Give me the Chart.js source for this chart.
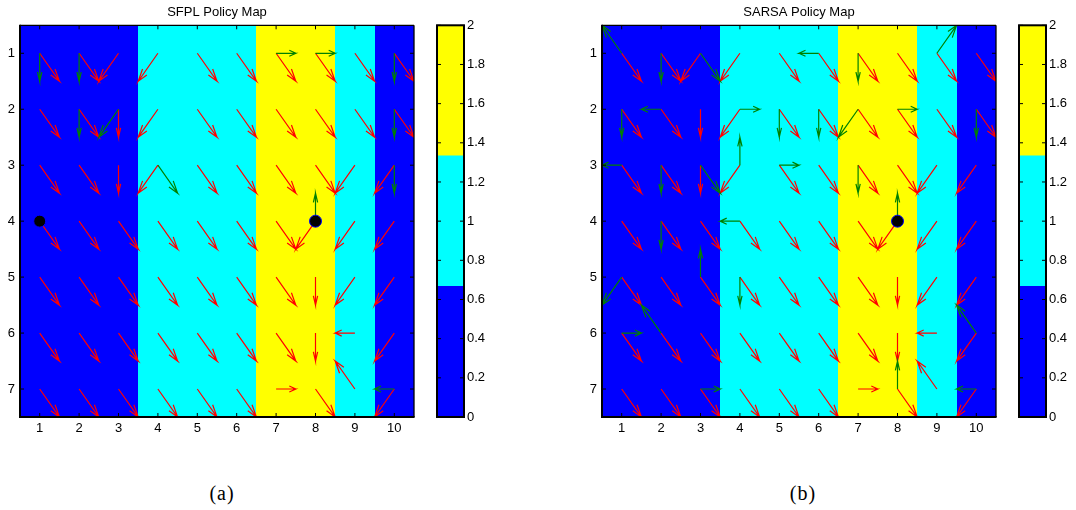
<!DOCTYPE html>
<html>
<head>
<meta charset="utf-8">
<title>Policy maps</title>
<script src="https://cdn.jsdelivr.net/npm/chart.js@4/dist/chart.umd.min.js"></script>
<style>
  body { margin: 0; background: #fff; width: 1076px; height: 510px; position: relative; overflow: hidden; }
  canvas { position: absolute; top: 0; }
  .cap { position: absolute; top: 481px; line-height: 24px; font-family: "Liberation Serif", serif; font-size: 20px; transform: translateX(-50%); letter-spacing: 1px; }
</style>
</head>
<body>
<canvas id="sfplMap" width="424" height="440" style="left:0px"></canvas>
<canvas id="sfplBar" width="76" height="440" style="left:424px"></canvas>
<canvas id="sarsaMap" width="424" height="440" style="left:582px"></canvas>
<canvas id="sarsaBar" width="70" height="440" style="left:1006px"></canvas>
<div class="cap" style="left:222px">(a)</div>
<div class="cap" style="left:803px">(b)</div>

<script>
// grid world: 10 columns x 7 rows
var xTicks = [1, 2, 3, 4, 5, 6, 7, 8, 9, 10];
var yTicks = [1, 2, 3, 4, 5, 6, 7];

// wind level of each column (0..2), coloured with the colour bar
var columnLevel = [0, 0, 0, 1, 1, 1, 2, 2, 1, 0];
var levelColors = ['#0000ff', '#00ffff', '#ffff00'];
var levelBands = [[0, 2 / 3], [2 / 3, 4 / 3], [4 / 3, 2]];
var colorbarTicks = [0, 0.2, 0.4, 0.6, 0.8, 1, 1.2, 1.4, 1.6, 1.8, 2];

// action per cell, row by row ('-' = nothing drawn)
var optimalPolicy = [
  'DR DR DL DL DR DR DR DR DR DR',
  'DR DR D DL DR DR DR DR DR DR',
  'DR DR D DL DR DR DR DR DL DL',
  'DR DR DR DR DR DR DR DL DL DL',
  'DR DR DR DR DR DR DR D DL DL',
  'DR DR DR DR DR DR DR D L DL',
  'DR DR DR DR DR DR R DR UL DL'
];

var sfplPolicy = [
  'D D - - - - R R - D',
  '- D DL - - - - - - D',
  '- - - DR - - - - - D',
  '- - - - - - - U - -',
  '- - - - - - - - - -',
  '- - - - - - - - - -',
  '- - - - - - - - - L'
];

var sarsaPolicy = [
  'UL D DR - - L D - UR -',
  'D L - R D D DL R - D',
  'L D DR U R - D - - -',
  '- D - L - - - U - -',
  'DL - U D - - - - - -',
  'R UL - - - - - - - UL',
  '- - R - - - - U - L'
];

// start / goal markers
var sfplAgents = [{ x: 1, y: 4 }, { x: 8, y: 4 }];
var sarsaAgents = [{ x: 8, y: 4 }];

var dirVec = { R: [1, 0], L: [-1, 0], U: [0, -1], D: [0, 1], UR: [1, -1], UL: [-1, -1], DR: [1, 1], DL: [-1, 1] };
var STEP = 0.5;
var HEAD = 0.33;

// quiver arrows as one broken polyline: tail, tip, barb, tip, barb, gap
function quiver(rows) {
  var pts = [];
  rows.forEach(function (row, r) {
    row.split(' ').forEach(function (code, c) {
      var d = dirVec[code];
      if (!d) return;
      var x = xTicks[c], y = yTicks[r];
      var u = d[0] * STEP, v = d[1] * STEP;
      var tx = x + u, ty = y + v;
      pts.push({ x: x, y: y }, { x: tx, y: ty },
        { x: tx - HEAD * (u + HEAD * v), y: ty - HEAD * (v - HEAD * u) },
        { x: tx, y: ty },
        { x: tx - HEAD * (u - HEAD * v), y: ty - HEAD * (v + HEAD * u) },
        { x: null, y: null });
    });
  });
  return pts;
}

Chart.defaults.font.family = '"Liberation Sans", Arial, sans-serif';
Chart.defaults.font.size = 13;
Chart.defaults.color = '#000';

function line(ctx, x1, y1, x2, y2) {
  ctx.beginPath();
  ctx.moveTo(x1, y1);
  ctx.lineTo(x2, y2);
  ctx.stroke();
}

var columnsPlugin = {
  id: 'columns',
  beforeDatasetsDraw: function (chart) {
    var ctx = chart.ctx, a = chart.chartArea, xs = chart.scales.x;
    ctx.save();
    columnLevel.forEach(function (lv, i) {
      var x0 = Math.round(xs.getPixelForValue(xTicks[i] - 0.5));
      var x1 = Math.round(xs.getPixelForValue(xTicks[i] + 0.5));
      ctx.fillStyle = levelColors[lv];
      ctx.fillRect(x0, a.top, x1 - x0, a.bottom - a.top);
    });
    ctx.restore();
  }
};

var framePlugin = {
  id: 'frame',
  afterDraw: function (chart) {
    var ctx = chart.ctx, a = chart.chartArea, s = chart.scales;
    ctx.save();
    ctx.strokeStyle = '#000';
    ctx.lineWidth = 1;
    s.x.ticks.forEach(function (t) {
      var px = s.x.getPixelForValue(t.value);
      line(ctx, px, a.top, px, a.top + 4);
      line(ctx, px, a.bottom, px, a.bottom - 4);
    });
    s.y.ticks.forEach(function (t) {
      var py = s.y.getPixelForValue(t.value);
      line(ctx, a.left, py, a.left + 4, py);
      line(ctx, a.right, py, a.right - 4, py);
    });
    ctx.lineWidth = 1.3;
    line(ctx, a.left, a.top, a.right, a.top);
    line(ctx, a.right, a.top, a.right, a.bottom);
    ctx.lineWidth = 2;
    line(ctx, a.left, a.top - 0.6, a.left, a.bottom + 1);
    line(ctx, a.left - 1, a.bottom, a.right + 0.6, a.bottom);
    ctx.restore();
  }
};

var noGrid = { display: false, drawTicks: false };

function policyMap(id, title, policy, agents) {
  new Chart(document.getElementById(id), {
    type: 'scatter',
    data: {
      datasets: [
        { data: agents, pointRadius: 6, backgroundColor: '#000', borderColor: '#0000ff', borderWidth: 1, order: 0 },
        { data: quiver(policy), showLine: true, spanGaps: false, pointRadius: 0, borderColor: '#008000', borderWidth: 1.2, order: 1 },
        { data: quiver(optimalPolicy), showLine: true, spanGaps: false, pointRadius: 0, borderColor: '#ff0000', borderWidth: 1.2, order: 2 }
      ]
    },
    options: {
      responsive: false,
      animation: false,
      events: [],
      layout: { padding: { left: 0, right: 10, top: 0, bottom: 0 } },
      plugins: {
        legend: { display: false },
        tooltip: { enabled: false },
        title: { display: true, text: title, fullSize: false, font: { size: 13, weight: 'normal' }, padding: { top: 4.7, bottom: 5 } }
      },
      scales: {
        x: {
          type: 'linear', min: 0.5, max: 10.5,
          grid: noGrid, border: { display: false },
          ticks: { padding: 4 },
          afterBuildTicks: function (s) { s.ticks = xTicks.map(function (v) { return { value: v }; }); },
          afterFit: function (s) { s.height = 23; }
        },
        y: {
          type: 'linear', min: 0.5, max: 7.5, reverse: true,
          grid: noGrid, border: { display: false },
          ticks: { padding: 5 },
          afterBuildTicks: function (s) { s.ticks = yTicks.map(function (v) { return { value: v }; }); },
          afterFit: function (s) { s.width = 20; }
        }
      }
    },
    plugins: [columnsPlugin, framePlugin]
  });
}

function colorbar(id, axisWidth) {
  new Chart(document.getElementById(id), {
    type: 'bar',
    data: {
      labels: [''],
      datasets: levelBands.map(function (band, i) {
        return { data: [band], backgroundColor: levelColors[i], barPercentage: 1, categoryPercentage: 1, grouped: false };
      })
    },
    options: {
      responsive: false,
      animation: false,
      events: [],
      layout: { padding: { left: 13, right: 0, top: 25.3, bottom: 23 } },
      plugins: { legend: { display: false }, tooltip: { enabled: false } },
      scales: {
        x: { display: false },
        y: {
          position: 'right', min: 0, max: 2,
          grid: noGrid, border: { display: false },
          ticks: { padding: 3, callback: function (v) { return String(Math.round(v * 10) / 10); } },
          afterBuildTicks: function (s) { s.ticks = colorbarTicks.map(function (v) { return { value: v }; }); },
          afterFit: function (s) { s.width = axisWidth; }
        }
      }
    },
    plugins: [{
      id: 'barFrame',
      afterDraw: function (chart) {
        var ctx = chart.ctx, a = chart.chartArea, ys = chart.scales.y;
        ctx.save();
        ctx.strokeStyle = '#000';
        ctx.lineWidth = 1;
        ys.ticks.forEach(function (t) {
          var py = ys.getPixelForValue(t.value);
          line(ctx, a.left, py, a.left + 4, py);
          line(ctx, a.right, py, a.right - 4, py);
        });
        ctx.lineWidth = 2;
        ctx.strokeRect(a.left, a.top, a.right - a.left, a.bottom - a.top);
        ctx.restore();
      }
    }]
  });
}

policyMap('sfplMap', 'SFPL Policy Map', sfplPolicy, sfplAgents);
colorbar('sfplBar', 36);
policyMap('sarsaMap', 'SARSA Policy Map', sarsaPolicy, sarsaAgents);
colorbar('sarsaBar', 30);
</script>
</body>
</html>
